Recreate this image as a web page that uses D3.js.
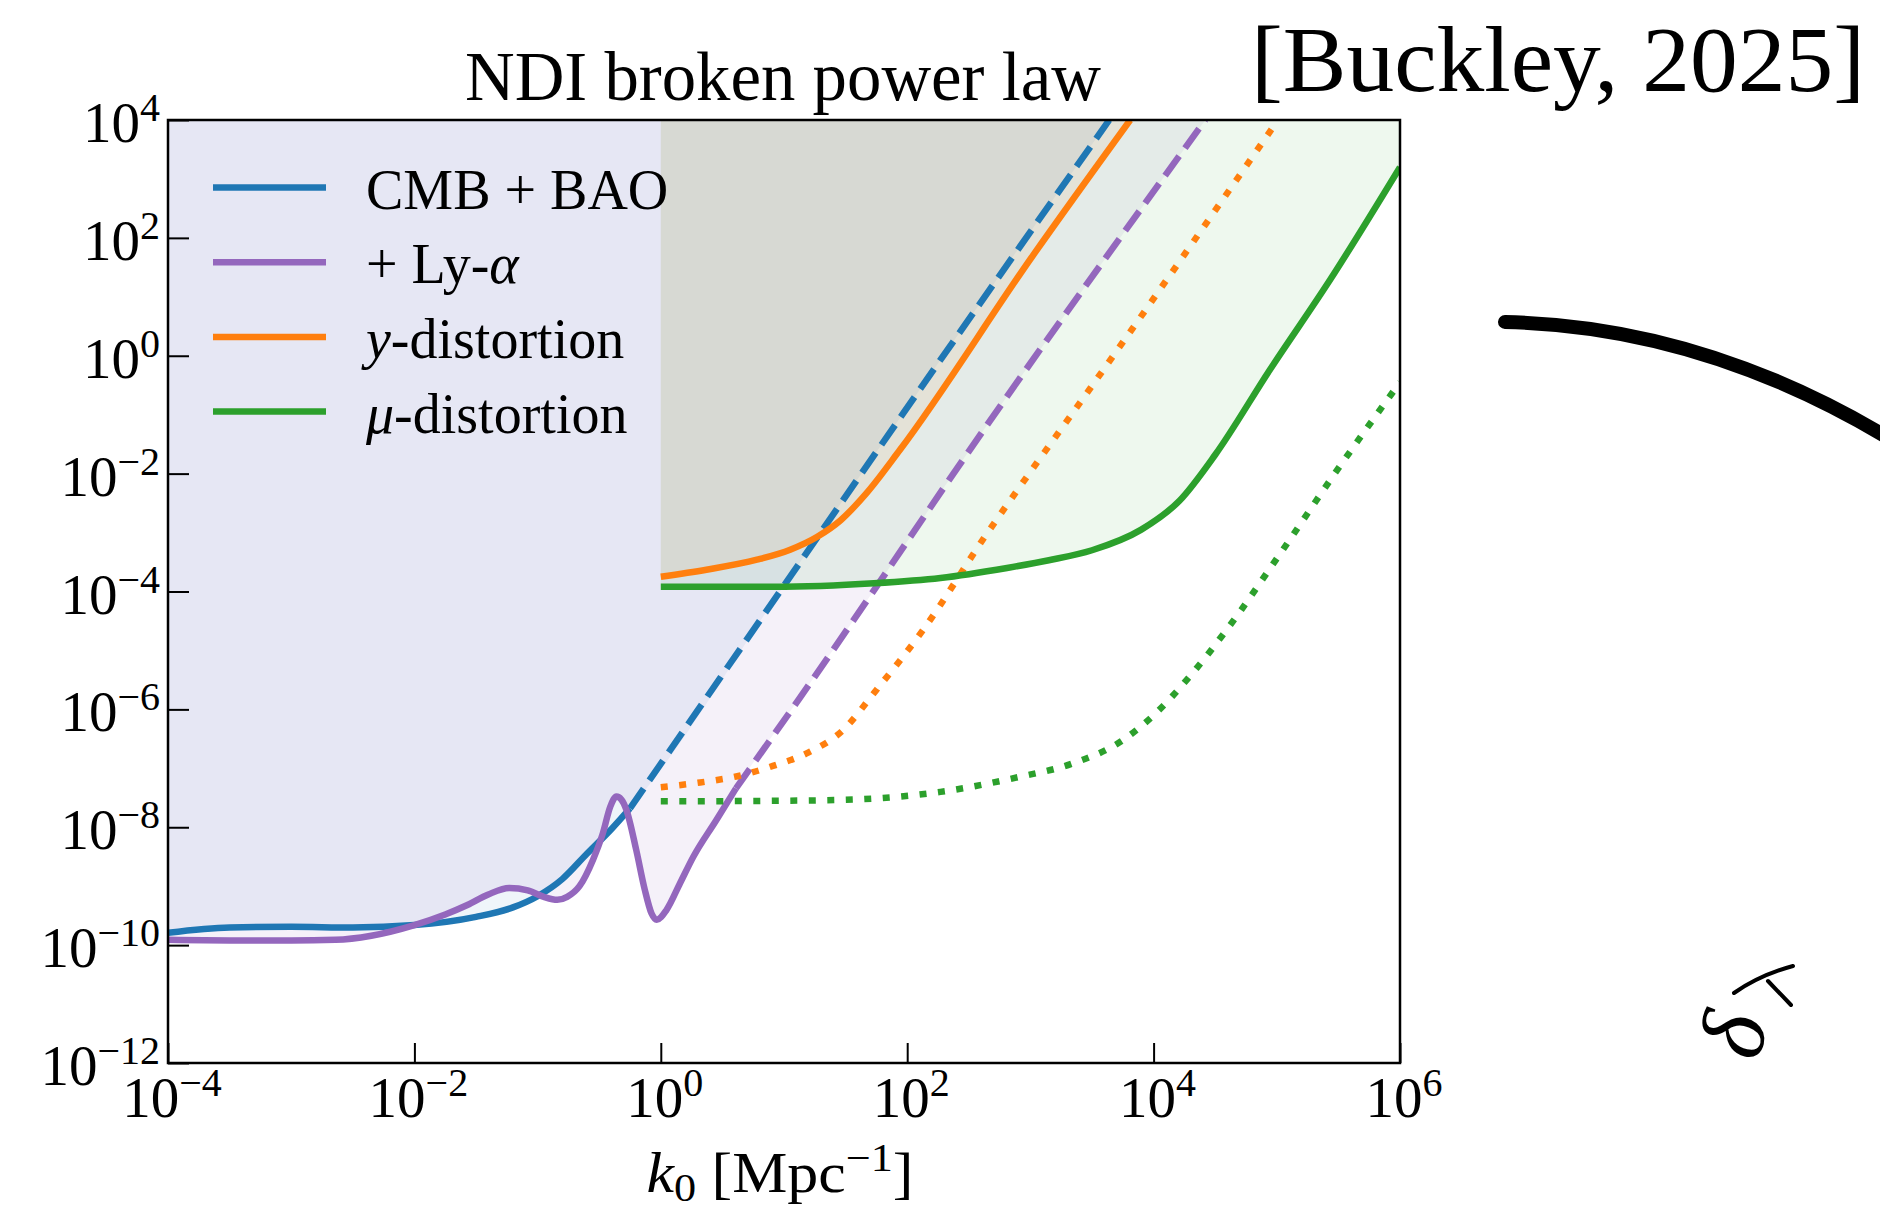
<!DOCTYPE html>
<html>
<head>
<meta charset="utf-8">
<script src="https://cdn.jsdelivr.net/npm/d3@7"></script>
<style>
  body { margin: 0; background: #fff; }
  svg { display: block; }
  text { font-family: "Liberation Serif", "DejaVu Serif", serif; fill: #000; }
</style>
</head>
<body>
<script>

// CMB + BAO (solid part, then the dashed extrapolation)
const blueSolidK = [-4, -3.5, -3, -2.5, -2, -1.5, -1.2, -1, -0.8, -0.6, -0.4, -0.25];
const blueSolidV = [-9.79, -9.70, -9.69, -9.70, -9.66, -9.52, -9.36, -9.17, -8.88, -8.45, -8.03, -7.68];
const blueDashK = [-0.25, 1.0, 1.97, 3.64];
const blueDashV = [-7.68, -3.90, -0.97, 4.0];

// + Ly-alpha
const purpleSolidK = [-4, -3.5, -3, -2.64, -2.35, -2.0, -1.75, -1.57, -1.4, -1.23, -1.08, -0.95, -0.84,
                      -0.76, -0.66, -0.55, -0.47, -0.41, -0.36, -0.32, -0.28, -0.2, -0.13, -0.076, -0.033,
                      0.047, 0.156, 0.264, 0.45, 0.61];
const purpleSolidV = [-9.91, -9.92, -9.92, -9.91, -9.84, -9.66, -9.48, -9.32, -9.14, -9.03, -9.07, -9.18, -9.23,
                      -9.18, -9.00, -8.55, -8.10, -7.65, -7.48, -7.53, -7.70, -8.38, -9.06, -9.46, -9.57,
                      -9.40, -8.95, -8.50, -7.88, -7.34];
const purpleDashK = [0.61, 1.13, 2.75, 4.42];
const purpleDashV = [-7.34, -5.80, -0.87, 4.0];

// y-distortion
const orangeSolidK = [0, 0.37, 0.78, 1.05, 1.27, 1.46, 1.67, 1.94, 3.02, 3.81];
const orangeSolidV = [-3.75, -3.63, -3.46, -3.29, -3.07, -2.79, -2.33, -1.60, 1.70, 4.0];
const orangeDotK = [0, 0.32, 0.63, 0.91, 1.2, 1.47, 1.75, 2.13, 2.64, 3.0, 3.35, 5.01];
const orangeDotV = [-7.32, -7.24, -7.13, -6.96, -6.73, -6.37, -5.67, -4.65, -3.04, -1.97, -0.95, 4.0];

// mu-distortion
const greenSolidK = [0, 0.92, 1.73, 2.27, 2.81, 3.15, 3.5, 3.9, 4.21, 4.5, 4.94, 5.43, 6.0];
const greenSolidV = [-3.92, -3.92, -3.86, -3.77, -3.60, -3.47, -3.30, -2.95, -2.46, -1.68, -0.25, 1.28, 3.2];
const greenDotK = [0, 1.0, 1.56, 2.27, 2.9, 3.34, 3.73, 4.02, 4.31, 4.6, 5.04, 5.47, 6.0];
const greenDotV = [-7.56, -7.55, -7.53, -7.40, -7.15, -6.92, -6.55, -6.06, -5.40, -4.63, -3.32, -2.0, -0.45];

const xTickExp = [-4, -2, 0, 2, 4, 6];
const yTickExp = [-12, -10, -8, -6, -4, -2, 0, 2, 4];

const legendItems = [
  { color: '#1f77b4', parts: [['CMB + BAO', 'normal']] },
  { color: '#9467bd', parts: [['+ Ly-', 'normal'], ['α', 'italic']] },
  { color: '#ff7f0e', parts: [['y', 'italic'], ['-distortion', 'normal']] },
  { color: '#2ca02c', parts: [['μ', 'italic'], ['-distortion', 'normal']] }
];

const W = 1880, H = 1211;
const plot = { left: 168, right: 1400, top: 120, bottom: 1063 };
const LW = 6.5;

const svg = d3.select('body').append('svg')
              .attr('width', W)
              .attr('height', H)
              .attr('viewBox', `0 0 ${W} ${H}`);

const x = d3.scaleLog().domain([1e-4, 1e6]).range([plot.left, plot.right]);
const y = d3.scaleLog().domain([1e-12, 1e4]).range([plot.bottom, plot.top]);

const pts = (ks, vs) => ks.map((k, i) => [Math.pow(10, k), Math.pow(10, vs[i])]);

const line = d3.line()
               .x(d => x(d[0]))
               .y(d => y(d[1]))
               .curve(d3.curveMonotoneX);
const area = d3.area()
               .x(d => x(d[0]))
               .y0(y(1e4))
               .y1(d => y(d[1]))
               .curve(d3.curveMonotoneX);

svg.append('clipPath')
   .attr('id', 'plot-clip')
   .append('rect')
   .attr('x', plot.left)
   .attr('y', plot.top)
   .attr('width', plot.right - plot.left)
   .attr('height', plot.bottom - plot.top);

const panel = svg.append('g').attr('clip-path', 'url(#plot-clip)');

// Shaded excluded regions (above each bound)
const blueAll = pts(blueSolidK, blueSolidV).concat(pts(blueDashK, blueDashV).slice(1));
const purpleAll = pts(purpleSolidK, purpleSolidV).concat(pts(purpleDashK, purpleDashV).slice(1));
const fills = [
  [blueAll, '#1f77b4', 0.07],
  [purpleAll, '#9467bd', 0.09],
  [pts(orangeSolidK, orangeSolidV), '#ff7f0e', 0.075],
  [pts(greenSolidK, greenSolidV), '#2ca02c', 0.08]
];
fills.forEach(([data, color, alpha]) => {
  panel.append('path')
       .datum(data)
       .attr('fill', color)
       .attr('fill-opacity', alpha)
       .attr('d', area);
});

// Curves
const curves = [
  [pts(blueSolidK, blueSolidV), '#1f77b4', null],
  [pts(blueDashK, blueDashV), '#1f77b4', '24,10'],
  [pts(purpleSolidK, purpleSolidV), '#9467bd', null],
  [pts(purpleDashK, purpleDashV), '#9467bd', '24,10'],
  [pts(orangeSolidK, orangeSolidV), '#ff7f0e', null],
  [pts(orangeDotK, orangeDotV), '#ff7f0e', '7,11.5'],
  [pts(greenSolidK, greenSolidV), '#2ca02c', null],
  [pts(greenDotK, greenDotV), '#2ca02c', '7,11.5']
];
curves.forEach(([data, color, dash]) => {
  panel.append('path')
       .datum(data)
       .attr('fill', 'none')
       .attr('stroke', color)
       .attr('stroke-width', LW)
       .attr('stroke-dasharray', dash)
       .attr('d', line);
});

// Axes: inward ticks, labels drawn separately
const xAxis = d3.axisBottom(x)
                .tickValues(xTickExp.map(e => Math.pow(10, e)))
                .tickSize(-20)
                .tickSizeOuter(0)
                .tickFormat('');
const yAxis = d3.axisLeft(y)
                .tickValues(yTickExp.map(e => Math.pow(10, e)))
                .tickSize(-21)
                .tickSizeOuter(0)
                .tickFormat('');

svg.append('g')
   .attr('transform', `translate(0,${plot.bottom})`)
   .call(xAxis)
   .call(g => g.selectAll('line').attr('stroke', '#000').attr('stroke-width', 2));
svg.append('g')
   .attr('transform', `translate(${plot.left},0)`)
   .call(yAxis)
   .call(g => g.selectAll('line').attr('stroke', '#000').attr('stroke-width', 2));
svg.selectAll('.domain').remove();

svg.append('rect')
   .attr('x', plot.left)
   .attr('y', plot.top)
   .attr('width', plot.right - plot.left)
   .attr('height', plot.bottom - plot.top)
   .attr('fill', 'none')
   .attr('stroke', '#000')
   .attr('stroke-width', 2.5);

function powerLabel(sel, e) {
  sel.append('tspan').text('10');
  sel.append('tspan')
     .attr('font-size', 40)
     .attr('dy', -21)
     .text(e < 0 ? '\u2212' + (-e) : String(e));
}

xTickExp.forEach(e => {
  svg.append('text')
     .attr('x', x(Math.pow(10, e)) + 4)
     .attr('y', 1117)
     .attr('font-size', 57)
     .attr('text-anchor', 'middle')
     .call(powerLabel, e);
});
yTickExp.forEach(e => {
  svg.append('text')
     .attr('x', 160)
     .attr('y', y(Math.pow(10, e)) + 22)
     .attr('font-size', 57)
     .attr('text-anchor', 'end')
     .call(powerLabel, e);
});

// Axis title
const xt = svg.append('text')
              .attr('x', 780)
              .attr('y', 1192)
              .attr('font-size', 56)
              .attr('text-anchor', 'middle')
              .attr('textLength', 267)
              .attr('lengthAdjust', 'spacingAndGlyphs');
xt.append('tspan').attr('font-style', 'italic').text('k');
xt.append('tspan').attr('font-size', 40).attr('dy', 9).text('0');
xt.append('tspan').attr('dy', -9).text(' [Mpc');
xt.append('tspan').attr('font-size', 40).attr('dy', -21).text('\u22121');
xt.append('tspan').attr('dy', 21).text(']');

// Title
svg.append('text')
   .attr('x', 783)
   .attr('y', 100)
   .attr('font-size', 70)
   .attr('text-anchor', 'middle')
   .attr('textLength', 636)
   .attr('lengthAdjust', 'spacingAndGlyphs')
   .text('NDI broken power law');

// Legend
const legend = svg.append('g').attr('class', 'legend');
legendItems.forEach((item, i) => {
  const ly = 187.5 + i * 74.7;
  legend.append('line')
        .attr('x1', 213).attr('x2', 326)
        .attr('y1', ly).attr('y2', ly)
        .attr('stroke', item.color)
        .attr('stroke-width', LW);
  const t = legend.append('text')
                  .attr('x', 366)
                  .attr('y', ly + 21)
                  .attr('font-size', 56);
  item.parts.forEach(([s, style]) => {
    t.append('tspan').attr('font-style', style).text(s);
  });
});

// Citation and hand-drawn decorations beside the plot
svg.append('text')
   .attr('x', 1251)
   .attr('y', 91)
   .attr('font-size', 94)
   .attr('textLength', 614)
   .attr('lengthAdjust', 'spacingAndGlyphs')
   .text('[Buckley, 2025]');

svg.append('path')
   .attr('d', 'M1505,322 Q1700,326 1885,436')
   .attr('fill', 'none')
   .attr('stroke', '#000')
   .attr('stroke-width', 14)
   .attr('stroke-linecap', 'round');

svg.append('text')
   .attr('transform', 'translate(1733,1035) rotate(-78)')
   .attr('font-size', 92)
   .attr('font-style', 'italic')
   .attr('text-anchor', 'middle')
   .attr('dominant-baseline', 'central')
   .text('δ');

svg.append('path')
   .attr('d', 'M1734,993 Q1760,975 1793,966 M1768,981 L1791,1005')
   .attr('fill', 'none')
   .attr('stroke', '#000')
   .attr('stroke-width', 4)
   .attr('stroke-linecap', 'round');
</script>
</body>
</html>
